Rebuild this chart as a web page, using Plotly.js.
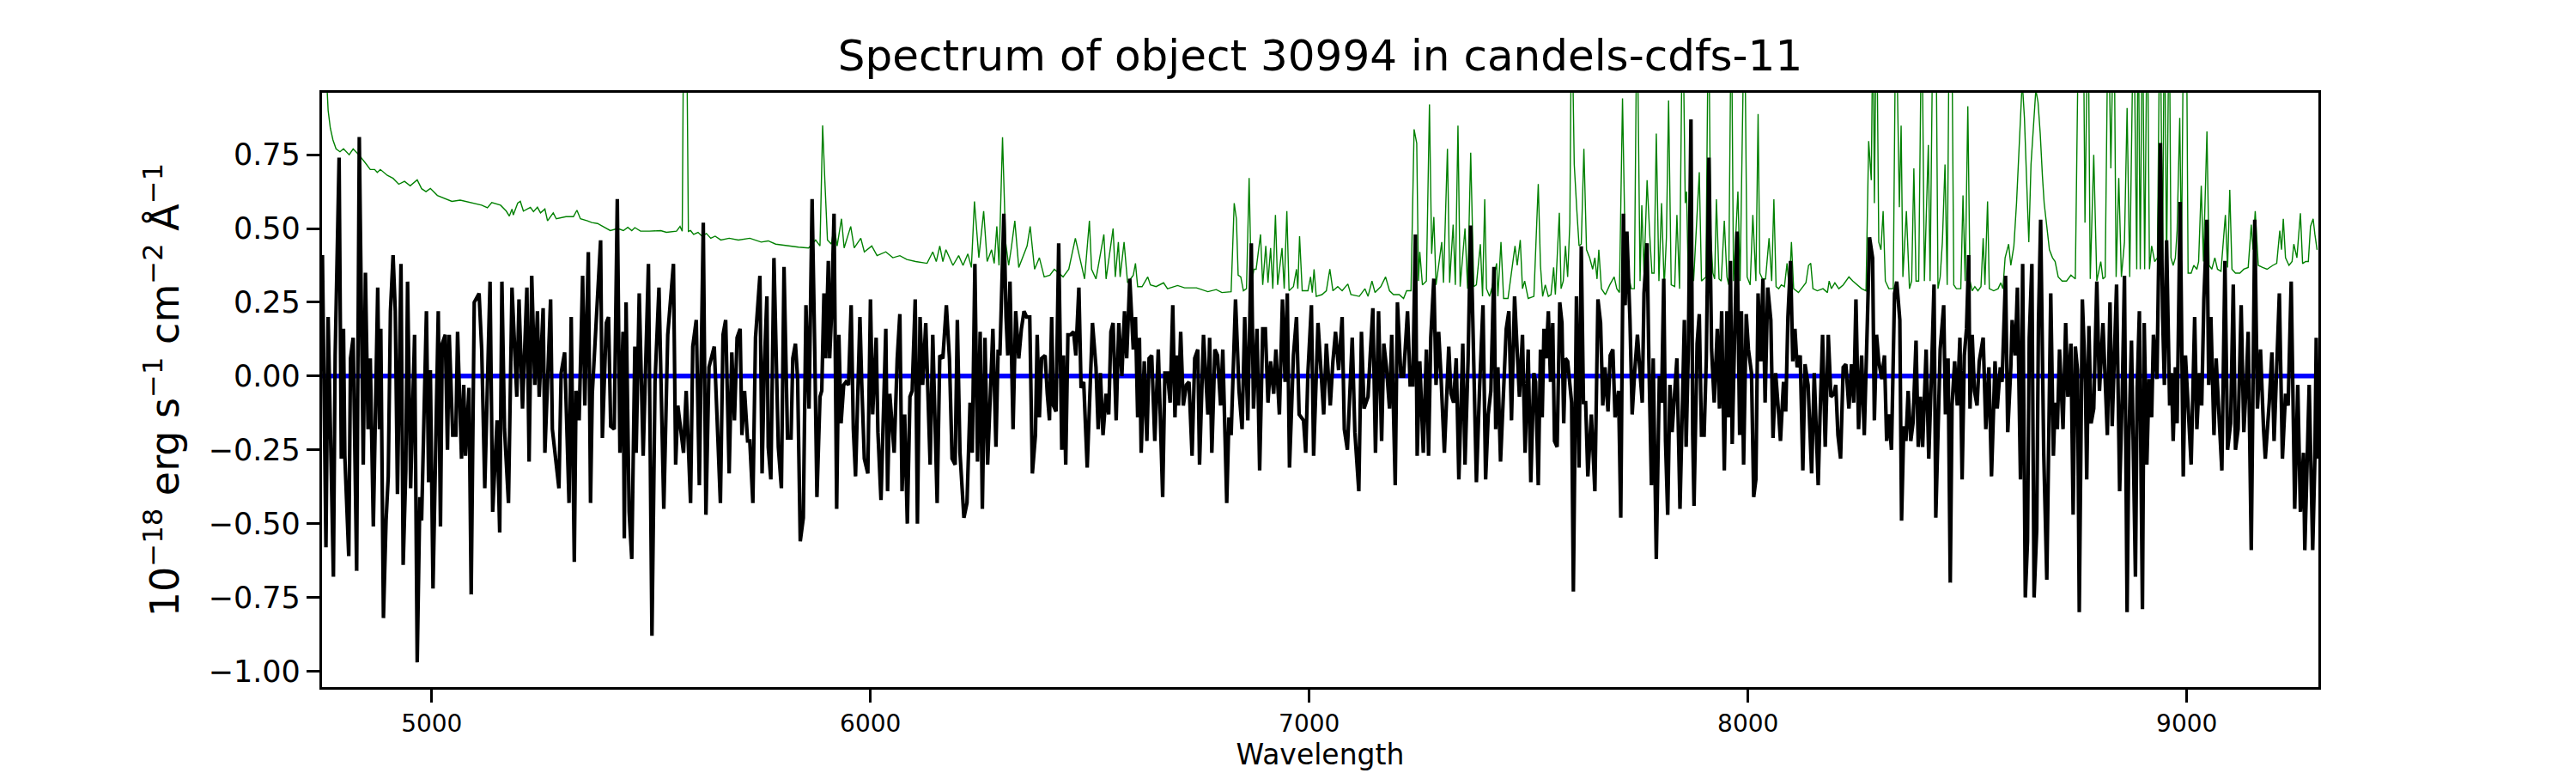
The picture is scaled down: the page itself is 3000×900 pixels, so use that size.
<!DOCTYPE html>
<html>
<head>
<meta charset="utf-8">
<script src="https://cdn.plot.ly/plotly-3.0.1.min.js"></script>
<style>
  body { margin: 0; background: #ffffff; }
  #spectrum-graph { width: 3000px; height: 900px; }
</style>
</head>
<body>
<div id="spectrum-graph"></div>
<script>
const waveA = [4751,4759,4764,4769,4776,4780,4789,4794,4799,4802,4811,4815,4821,4829,4835,4844,4849,4855,4860,4867,
  4877,4881,4884,4890,4896,4901,4906,4912,4917,4922,4930,4935,4941,4945,4952,4961,4967,4973,4977,4988,
  4993,4997,5003,5015,5020,5024,5031,5036,5040,5048,5055,5059,5068,5073,5077,5085,5090,5097,5108,5114,
  5121,5133,5139,5149,5155,5160,5166,5175,5183,5194,5199,5207,5217,5222,5228,5235,5241,5245,5254,5258,
  5271,5275,5290,5295,5303,5313,5318,5325,5329,5336,5344,5349,5357,5362,5366,5385,5389,5398,5403,5408,
  5416,5423,5429,5436,5439,5443,5450,5456,5463,5466,5473,5482,5494,5502,5509,5518,5529,5538,5551,5556,
  5561,5574,5580,5590,5595,5603,5610,5619,5625,5632,5644,5658,5664,5670];
const fluxA = [0.41,-0.58,0.20,-0.15,-0.68,0.07,0.74,-0.28,0.16,-0.27,-0.61,0.06,0.13,-0.66,0.81,-0.30,0.35,-0.18,0.06,-0.51,
  0.30,-0.18,0.16,-0.82,-0.49,-0.34,0.22,0.41,0.22,-0.40,0.38,-0.64,-0.32,0.32,-0.38,0.14,-0.97,-0.41,-0.49,0.22,
  -0.36,0.02,-0.72,0.22,-0.51,0.11,0.14,-0.25,0.14,-0.20,-0.20,0.15,-0.28,-0.03,-0.27,-0.04,-0.74,0.25,0.28,0.09,
  -0.38,0.32,-0.46,-0.15,-0.53,0.32,-0.18,-0.43,0.30,-0.07,0.26,-0.11,0.30,-0.29,0.34,-0.03,0.22,-0.07,0.23,-0.26,
  0.26,-0.18,-0.38,0.01,0.08,-0.43,0.20,-0.63,-0.05,-0.15,0.34,-0.10,0.42,-0.43,-0.06,0.46,-0.21,0.18,0.20,-0.17,
  -0.18,0.60,-0.26,0.15,-0.55,0.25,-0.46,-0.62,0.10,-0.26,0.28,-0.27,0.38,-0.88,-0.02,0.30,-0.45,0.14,0.38,-0.30,
  -0.10,-0.26,-0.05,-0.43,0.10,0.19,-0.37,0.52,-0.47,0.03,0.10,-0.43,0.14,0.19];

const waveB = [5678,5684,5690,5696,5703,5707,5713,5720,5725,5732,5738,5748,5753,5758,5764,5767,5773,5780,5786,5790,
  5797,5803,5811,5819,5823,5829,5834,5840,5847,5853,5860,5867,5873,5878,5885,5889,5894,5898,5904,5907,
  5911,5917,5923,5928,5933,5939,5944,5950,5956,5961,5966,5976,5980,5986,5994,6000,6005,6013,6017,6024,
  6035,6039,6044,6054,6061,6067,6072,6078,6084,6090,6095,6102,6107,6113,6119,6126,6136,6142,6152,6158,
  6165,6173,6180,6186,6193,6198,6204,6213,6220,6227,6232,6238,6244,6250,6255,6261,6267,6273,6279,6286,
  6291,6295,6304,6309,6313,6318,6325,6331,6338,6344,6350,6356,6363,6369,6376,6380,6385,6390,6398,6403,
  6408,6413,6417,6423,6429,6436,6440,6445,6450,6456,6463,6468,6475,6480,6486,6494,6501,6506,6514,6519,
  6524,6530,6537,6543,6548,6553,6560,6566,6573,6579,6584,6591,6599];
const fluxB = [-0.33,0.08,-0.15,0.13,0.16,-0.20,-0.05,-0.22,-0.22,-0.43,0.13,0.34,-0.33,0.03,0.27,-0.24,-0.35,0.40,0.03,-0.24,
  -0.38,0.37,-0.21,-0.21,0.06,0.11,-0.01,-0.56,-0.48,0.24,-0.11,0.60,0.09,-0.41,-0.07,-0.05,0.28,0.06,0.39,0.06,
  0.20,0.55,-0.45,0.14,-0.16,-0.03,-0.02,-0.03,0.24,-0.18,-0.34,0.20,-0.02,-0.28,-0.33,0.26,-0.13,0.13,-0.19,-0.42,
  0.16,-0.39,-0.06,-0.26,0.06,0.21,-0.39,-0.13,-0.50,-0.07,-0.05,0.26,-0.50,0.20,-0.03,0.18,-0.30,0.14,-0.43,0.07,
  0.06,0.24,0.06,-0.28,-0.30,0.19,-0.26,-0.48,-0.43,-0.09,-0.26,0.38,-0.29,0.15,-0.45,0.13,-0.30,-0.07,0.16,-0.24,
  0.09,0.07,0.55,0.20,0.07,0.32,-0.18,0.22,0.06,0.16,0.22,0.20,0.20,-0.33,-0.20,0.14,-0.14,0.06,0.07,-0.06,
  -0.15,0.20,-0.10,-0.12,0.45,-0.25,0.07,-0.30,0.14,0.14,0.15,0.07,0.30,-0.04,-0.02,-0.31,0.03,0.18,0.03,-0.18,
  0.01,-0.20,-0.06,-0.13,0.15,0.18,-0.15,0.18,0.00,0.22,0.06,0.33,0.09];

const waveC = [6604,6609,6613,6617,6624,6630,6635,6641,6648,6656,6666,6671,6677,6683,6689,6694,6698,6702,6707,6713,
  6720,6726,6733,6739,6746,6750,6759,6769,6773,6778,6785,6791,6798,6803,6812,6817,6822,6832,6840,6847,
  6853,6860,6868,6873,6881,6887,6894,6900,6906,6912,6919,6924,6932,6939,6945,6950,6955,6964,6971,6977,
  6987,6992,6997,7005,7010,7020,7026,7033,7039,7048,7054,7060,7067,7075,7080,7087,7098,7104,7113,7119,
  7125,7134,7139,7145,7151,7158,7165,7170,7176,7183,7188,7196,7201,7209,7215,7224,7230,7236,7242,7246,
  7252,7260,7267,7272,7277,7284,7289,7295,7300,7308,7318,7323,7329,7335,7341,7350,7355,7362,7368,7375,
  7381,7388,7396,7402,7408,7414,7421,7425,7430,7436,7443,7449,7455,7461,7468,7473,7479,7486,7492,7499,
  7505,7512];
const fluxC = [0.20,-0.14,0.13,-0.26,0.05,-0.22,0.06,0.07,-0.22,0.09,-0.41,0.01,0.01,-0.09,0.24,-0.14,0.07,-0.10,0.15,-0.10,
  -0.03,-0.02,-0.27,0.06,0.09,-0.30,0.14,-0.13,0.13,-0.26,0.09,0.07,-0.10,0.09,-0.43,-0.14,-0.20,0.26,-0.05,-0.18,
  0.20,-0.15,0.45,-0.11,0.16,-0.32,0.16,0.16,-0.09,0.05,-0.06,0.09,-0.13,0.26,-0.02,0.28,-0.31,0.07,0.20,-0.13,
  -0.15,-0.26,0.01,0.24,-0.27,0.18,0.03,-0.13,0.11,-0.10,0.05,0.15,0.02,0.20,-0.18,-0.25,0.13,-0.19,-0.39,0.15,
  -0.11,-0.07,0.07,0.23,-0.26,0.22,-0.22,0.11,0.03,-0.11,0.14,-0.37,0.25,0.00,0.00,0.22,-0.03,-0.03,0.48,-0.27,
  0.05,-0.26,0.09,-0.27,0.13,0.33,-0.03,0.15,0.01,-0.26,0.10,-0.06,-0.09,0.06,-0.35,0.11,-0.30,0.05,0.51,0.02,
  -0.36,-0.05,0.24,-0.35,-0.13,-0.05,0.37,-0.18,0.03,-0.29,-0.03,0.16,0.22,-0.15,0.27,0.13,-0.07,0.14,-0.26,0.09,
  -0.36,0.01];

const waveD = [7516,7522,7527,7531,7535,7540,7545,7550,7555,7559,7565,7571,7576,7580,7584,7589,7594,7598,7602,7609,
  7615,7620,7625,7630,7635,7643,7651,7658,7664,7669,7674,7681,7686,7692,7697,7705,7710,7716,7720,7724,
  7731,7736,7742,7748,7754,7759,7763,7770,7774,7780,7784,7787,7791,7798,7803,7808,7812,7817,7822,7827,
  7833,7838,7845,7855,7859,7864,7870,7874,7877,7884,7889,7894,7900,7905,7911,7917,7923,7930,7935,7940,
  7946,7952,7956,7960,7964,7969,7975,7981,7985,7990,7996,8001,8008,8013,8018,8023,8029,8034,8039,8045,
  8052,8057,8063,8070,8074,8081,8086,8091,8097,8102,8107,8112,8119,8125,8130,8137,8145,8151,8160,8164,
  8170,8176,8183,8189,8196,8200,8205,8211,8217,8223,8230,8236,8241,8246,8252,8259,8265,8272,8277,8284,
  8288,8293,8298,8305,8311,8316,8321,8327,8334,8339,8346,8350,8355,8360,8365,8371,8376,8383,8388,8393,
  8398,8406,8412,8419,8424,8428,8438];
const fluxD = [-0.02,-0.37,0.09,-0.14,0.16,0.06,0.22,-0.02,0.18,-0.22,-0.24,0.25,0.18,-0.16,0.06,0.05,-0.03,-0.09,-0.73,0.27,
  -0.31,0.44,-0.09,-0.09,-0.34,-0.13,-0.39,0.26,0.18,-0.10,0.03,-0.12,0.07,0.09,-0.14,-0.05,-0.48,0.55,0.24,0.49,
  0.19,-0.13,0.02,0.14,0.01,-0.09,0.28,0.45,0.06,-0.37,0.06,-0.20,-0.62,0.00,-0.09,0.33,-0.22,-0.47,-0.03,-0.19,
  -0.07,0.06,-0.45,0.19,-0.24,0.09,0.87,-0.20,-0.44,0.11,0.21,-0.20,-0.20,0.06,0.74,0.09,-0.09,0.16,-0.11,0.22,
  -0.32,0.22,-0.14,0.39,-0.23,0.06,0.49,-0.20,0.22,-0.30,0.21,0.09,0.01,-0.41,-0.35,0.28,0.05,0.33,-0.09,0.30,
  0.19,-0.21,0.01,-0.13,-0.22,-0.02,-0.12,0.20,0.39,0.05,0.16,0.03,0.07,-0.32,0.04,-0.03,-0.33,0.01,-0.37,-0.14,
  0.14,-0.24,0.14,-0.07,-0.06,-0.03,-0.20,-0.28,0.03,0.04,-0.11,0.04,-0.09,0.26,-0.18,0.07,-0.20,0.18,0.47,0.40,
  -0.15,0.14,0.05,-0.01,0.07,-0.22,-0.13,-0.25,0.28,0.32,0.19,-0.49,-0.17,-0.22,-0.05,-0.22,-0.16,0.12,-0.24,-0.07,
  -0.24,0.09,-0.28,0.05,0.31,-0.48,0.09];

const waveE = [8446,8450,8456,8461,8465,8471,8477,8483,8488,8493,8498,8503,8506,8511,8516,8522,8527,8536,8542,8549,
  8555,8563,8568,8575,8579,8587,8592,8599,8602,8609,8614,8621,8626,8632,8637,8641,8647,8652,8658,8662,
  8667,8674,8681,8686,8690,8696,8700,8705,8710,8718,8724,8729,8736,8741,8746,8751,8755,8762,8769,8772,
  8777,8782,8788,8795,8801,8809,8819,8825,8830,8840,8847,8853,8858,8864,8868,8874,8883,8887,8892,8899,
  8903,8909,8914,8920,8924,8932,8940,8945,8949,8954,8961,8965,8969,8974,8978,8985,8992,8997,9003,9010,
  9018,9023,9029,9034,9039,9046,9050,9055,9062,9067,9074,9080,9087,9093,9100,9106,9111,9117,9124,9130,
  9136,9140,9147,9155,9161,9168,9175,9179,9188,9194,9199,9205,9211,9218,9225,9231,9238,9246,9253,9259,
  9266,9269,9274,9279,9287,9292,9295,9299];
const fluxE = [0.24,-0.13,0.06,-0.70,-0.10,0.05,-0.10,0.13,-0.35,0.07,0.16,0.41,-0.11,0.14,-0.05,-0.10,0.05,0.13,-0.18,0.03,
  -0.34,0.05,-0.11,0.03,-0.02,0.34,-0.19,0.03,0.19,0.07,0.30,-0.35,0.38,-0.75,-0.56,0.13,0.38,-0.75,-0.52,0.18,
  0.53,-0.26,-0.69,-0.11,0.28,-0.27,-0.09,-0.18,0.09,-0.18,0.18,-0.07,0.11,-0.47,0.10,0.02,-0.80,0.26,-0.02,-0.35,
  0.17,-0.16,-0.11,0.32,-0.05,0.18,-0.20,0.25,-0.17,0.31,-0.39,-0.06,0.34,-0.80,-0.22,0.12,-0.68,-0.04,0.22,-0.79,
  0.18,-0.30,-0.01,-0.14,0.14,-0.01,0.79,0.20,-0.03,0.46,-0.10,0.01,-0.22,0.03,-0.16,0.59,-0.34,0.07,-0.13,-0.30,
  0.20,-0.18,0.01,-0.10,0.26,0.53,-0.03,0.20,-0.20,0.06,-0.15,-0.32,0.39,-0.25,-0.16,0.31,-0.25,-0.18,0.24,-0.19,
  -0.01,0.15,-0.59,0.53,-0.11,0.09,-0.18,-0.28,-0.09,0.08,-0.22,0.06,0.28,-0.28,-0.06,-0.10,0.32,-0.45,-0.03,-0.46,
  -0.26,-0.59,-0.31,-0.03,-0.59,-0.28,0.13,-0.28];

// noise / sky spectrum (green); values above 0.96 run off the top of the axes
const skyWaveA = [4751,4762,4764,4769,4775,4782,4791,4799,4812,4821,4834,4850,4860,4870,4876,4883,4899,4912,4925,4938,
  4951,4967,4977,4987,4997,5013,5033,5046,5065,5095,5114,5127,5137,5157,5170,5177,5183,5186,5196,5202,
  5209,5225,5232,5241,5248,5258,5264,5277,5284,5306,5323,5331,5339,5355,5365,5378,5391,5407,5424,5437,
  5447,5456,5463,5476,5496,5522,5535,5558,5566,5571,5575,5580,5585,5590,5597,5607,5616,5626,5636,5646,
  5659,5678];
const skyA = [1.3,0.97,0.90,0.84,0.80,0.77,0.76,0.77,0.75,0.77,0.75,0.72,0.70,0.70,0.69,0.70,0.68,0.67,0.65,0.66,
  0.645,0.665,0.635,0.625,0.636,0.612,0.599,0.592,0.596,0.586,0.579,0.570,0.588,0.579,0.559,0.542,0.566,0.546,0.586,0.592,
  0.559,0.572,0.557,0.572,0.553,0.566,0.526,0.553,0.533,0.540,0.540,0.562,0.533,0.526,0.520,0.517,0.507,0.493,0.500,0.493,
  0.504,0.493,0.503,0.491,0.491,0.493,0.487,0.491,0.507,0.491,1.4,1.4,0.49,0.493,0.480,0.487,0.474,0.483,0.467,0.474,
  0.461,0.467];

const skyWaveB = [5699,5725,5751,5767,5784,5810,5836,5859,5875,5885,5891,5896,5902,5911,5917,5924,5934,5940,5955,5963,
  5978,5986,6003,6015,6035,6051,6067,6083,6103,6129,6142,6150,6158,6165,6172,6188,6201,6211,6222,6230,
  6237,6247,6258,6266,6276,6282,6288,6293,6301,6308,6315,6321,6329,6338,6357,6364,6374,6385,6396,6409,
  6419,6439,6452,6467,6471,6488,6499,6504,6514,6532,6537,6553,6558,6565,6569,6578,6586,6599];
const skyB = [0.461,0.467,0.454,0.458,0.447,0.441,0.437,0.434,0.461,0.441,0.849,0.664,0.461,0.447,0.507,0.441,0.533,0.434,0.507,0.434,
  0.467,0.421,0.441,0.408,0.421,0.401,0.408,0.395,0.388,0.382,0.421,0.388,0.441,0.388,0.428,0.375,0.408,0.375,0.414,0.368,
  0.592,0.401,0.559,0.388,0.428,0.382,0.507,0.375,0.809,0.454,0.375,0.434,0.526,0.368,0.441,0.507,0.362,0.401,0.336,0.342,
  0.362,0.336,0.362,0.467,0.441,0.329,0.526,0.362,0.329,0.480,0.329,0.500,0.336,0.454,0.336,0.454,0.316,0.342];

const skyWaveC = [6604,6609,6619,6632,6638,6651,6668,6677,6700,6716,6743,6769,6788,6801,6822,6829,6834,6838,6844,6850,
  6857,6863,6868,6874,6879,6889,6894,6901,6906,6912,6917,6923,6928,6938,6943,6949,6954,6964,6971,6974,
  6978,6984,6997,7003,7007,7011,7016,7029,7039,7047,7054,7065,7075,7088,7095,7114,7127,7134,7143,7150,
  7163,7174,7183,7192,7205,7215,7222,7232,7239,7245,7249,7252,7258,7267,7274,7279,7284,7289,7295,7302,
  7306,7315,7320,7328,7333,7339,7344,7355,7361,7368,7375,7381,7390,7395,7400,7404,7411,7417,7427,7430,
  7437,7443,7453,7463,7469,7474,7481,7486,7491,7499,7512];
const skyC = [0.382,0.303,0.303,0.336,0.309,0.303,0.316,0.296,0.307,0.299,0.299,0.286,0.293,0.283,0.286,0.586,0.533,0.342,0.336,0.289,
  0.296,0.671,0.309,0.362,0.362,0.480,0.309,0.441,0.316,0.434,0.296,0.546,0.309,0.434,0.296,0.559,0.289,0.303,0.362,0.296,
  0.474,0.289,0.289,0.336,0.283,0.362,0.270,0.276,0.289,0.362,0.289,0.303,0.289,0.312,0.276,0.270,0.296,0.270,0.322,0.283,
  0.303,0.336,0.289,0.276,0.276,0.263,0.289,0.289,0.836,0.789,0.322,0.421,0.309,0.322,0.921,0.414,0.539,0.309,0.375,0.454,
  0.316,0.770,0.316,0.513,0.309,0.849,0.303,0.500,0.296,0.757,0.303,0.309,0.447,0.270,0.599,0.296,0.270,0.303,0.382,0.270,
  0.454,0.263,0.263,0.375,0.441,0.375,0.461,0.296,0.322,0.263,0.270];

const skyWaveD = [7522,7527,7532,7538,7545,7551,7557,7561,7570,7574,7579,7584,7589,7594,7598,7604,7610,7615,7620,7626,
  7632,7639,7646,7651,7656,7660,7666,7675,7685,7695,7701,7707,7714,7721,7727,7734,7741,7747,7754,7758,
  7763,7770,7776,7781,7786,7791,7797,7803,7809,7814,7819,7825,7833,7838,7844,7851,7857,7860,7864,7870,
  7876,7881,7889,7894,7904,7910,7915,7920,7924,7928,7934,7939,7946,7952,7956,7962,7967,7977,7982,7992,
  7998,8005,8011,8018,8023,8027,8033,8040,8048,8054,8059,8064,8070,8076,8083,8089,8094,8099,8104,8115,
  8125,8132,8138,8143,8148,8158,8171,8181,8185,8190,8198,8207,8217,8230,8239,8249,8259,8269,8275,8281,
  8285,8288,8293,8298,8303,8308,8313,8321,8331,8337,8345,8349,8353,8361,8368,8373,8378,8383,8389,8396,
  8402,8411,8415,8422,8428,8433,8438];
const skyD = [0.651,0.375,0.270,0.309,0.270,0.276,0.368,0.276,0.553,0.296,0.322,0.441,0.336,0.520,1.3,0.717,0.559,0.441,0.447,0.770,
  0.428,0.401,0.362,0.401,0.329,0.428,0.296,0.276,0.309,0.336,0.296,0.283,0.941,0.349,0.349,0.296,0.296,1.3,0.322,0.579,
  0.349,0.664,0.480,0.349,0.349,0.822,0.322,0.586,0.303,0.467,0.934,0.309,0.303,0.546,0.296,1.3,0.586,0.625,0.322,0.480,
  0.322,0.467,0.691,0.322,0.336,1.3,0.480,0.349,0.329,0.599,0.329,0.322,0.526,0.336,0.309,1.3,0.322,0.625,0.322,1.3,
  0.336,0.309,0.546,0.322,0.888,0.349,0.329,0.329,0.467,0.322,0.599,0.303,0.296,0.309,0.303,0.382,0.296,0.454,0.296,0.283,
  0.303,0.316,0.375,0.382,0.296,0.289,0.296,0.283,0.322,0.296,0.316,0.296,0.309,0.336,0.322,0.309,0.296,0.289,0.796,0.664,
  1.3,0.586,1.3,0.454,0.428,0.559,0.322,0.296,0.296,1.3,0.572,0.849,0.336,0.559,0.296,0.322,0.704,0.322,0.322,1.3,
  0.322,0.783,0.322,1.3,1.3,0.296,0.336];

const skyWaveE = [8443,8449,8454,8459,8464,8469,8475,8485,8490,8495,8501,8506,8511,8517,8524,8531,8536,8540,8546,8550,
  8560,8570,8576,8581,8586,8594,8599,8606,8612,8619,8625,8630,8635,8640,8645,8651,8656,8661,8666,8671,
  8675,8681,8687,8694,8700,8707,8716,8726,8736,8746,8754,8759,8764,8768,8775,8780,8788,8795,8804,8809,
  8814,8821,8827,8834,8839,8845,8851,8858,8864,8870,8879,8886,8889,8894,8899,8904,8910,8915,8920,8927,
  8933,8939,8945,8949,8954,8960,8964,8969,8974,8978,8984,8988,8993,8999,9003,9010,9016,9023,9027,9033,
  9038,9046,9051,9057,9064,9070,9078,9088,9093,9098,9103,9111,9121,9130,9140,9147,9151,9156,9163,9173,
  9183,9196,9205,9212,9216,9220,9225,9233,9240,9244,9251,9259,9264,9271,9277,9282,9288,9292,9297];
const skyE = [0.454,0.717,0.309,1.3,1.3,0.309,0.296,0.296,0.612,0.322,0.914,0.322,0.289,0.303,0.289,0.303,0.467,0.309,0.592,0.296,
  0.289,0.296,0.316,0.296,0.401,0.447,0.375,0.441,0.586,0.822,1.0,0.875,0.651,0.454,0.717,0.875,0.97,0.928,0.822,0.678,
  0.586,0.507,0.428,0.401,0.388,0.336,0.322,0.322,0.342,0.329,1.3,1.3,1.3,0.520,1.3,0.329,0.750,0.322,0.388,0.329,
  0.336,1.3,0.704,1.3,0.336,0.671,0.336,0.454,0.908,0.336,1.3,0.362,1.3,0.362,1.3,0.362,1.3,0.362,0.441,0.388,
  0.401,1.3,0.401,1.3,0.375,1.3,0.401,0.375,0.401,0.493,0.875,0.401,1.3,1.3,0.349,0.349,0.375,0.362,0.388,0.645,
  0.388,0.829,0.375,0.362,0.401,0.362,0.355,0.546,0.368,0.631,0.362,0.349,0.349,0.362,0.368,0.513,0.428,0.559,0.375,0.368,
  0.362,0.375,0.382,0.493,0.428,0.533,0.401,0.375,0.388,0.447,0.401,0.552,0.381,0.388,0.388,0.507,0.533,0.480,0.428];

// zero level (blue)
const zeroWave = [4750, 9293];
const zeroLevel = [0, 0];

const fluxTrace = {
    x: [].concat(waveA, waveB, waveC, waveD, waveE),
    y: [].concat(fluxA, fluxB, fluxC, fluxD, fluxE),
    mode: 'lines',
    line: {color: '#000000', width: 4.2},
    hoverinfo: 'x+y'
};
const skyTrace = {
    x: [].concat(skyWaveA, skyWaveB, skyWaveC, skyWaveD, skyWaveE),
    y: [].concat(skyA, skyB, skyC, skyD, skyE),
    mode: 'lines',
    line: {color: '#008000', width: 1.4},
    hoverinfo: 'x+y'
};
const zeroTrace = {
    x: zeroWave,
    y: zeroLevel,
    mode: 'lines',
    line: {color: '#0000ff', width: 5.5},
    hoverinfo: 'skip'
};

const layout = {
    width: 3000,
    height: 900,
    margin: {l: 375, r: 300, t: 108, b: 100},
    paper_bgcolor: '#ffffff',
    plot_bgcolor: '#ffffff',
    font: {family: 'DejaVu Sans', color: '#000000'},
    showlegend: false,
    title: {
        text: 'Spectrum of object 30994 in candels-cdfs-11',
        font: {size: 50, color: '#000000'},
        xref: 'paper', x: 0.5, xanchor: 'center',
        yref: 'container', y: 0.928, yanchor: 'middle'
    },
    xaxis: {
        range: [4750, 9300],
        tick0: 0, dtick: 1000, tickformat: 'd',
        ticks: 'outside', ticklen: 15, tickwidth: 3, tickcolor: '#000000',
        tickfont: {size: 28},
        showline: true, mirror: true, linewidth: 3.3, linecolor: '#000000',
        showgrid: false, zeroline: false,
        title: {text: 'Wavelength', font: {size: 33}, standoff: 6}
    },
    yaxis: {
        range: [-1.054, 0.960],
        tick0: 0, dtick: 0.25, tickformat: '.2f',
        ticks: 'outside', ticklen: 15, tickwidth: 3, tickcolor: '#000000',
        tickfont: {size: 35},
        showline: true, mirror: true, linewidth: 3.3, linecolor: '#000000',
        showgrid: false, zeroline: false,
        title: {
            text: '10<sup>\u221218</sup> erg s<sup>\u22121</sup> cm<sup>\u22122</sup> \u00c5<sup>\u22121</sup>',
            font: {size: 46}, standoff: 20
        }
    }
};
const config = {
    responsive: false,
    displayModeBar: false
};
const graphDiv = document.getElementById('spectrum-graph');
Plotly.newPlot(graphDiv, [skyTrace, zeroTrace, fluxTrace], layout, config);
</script>
</body>
</html>
